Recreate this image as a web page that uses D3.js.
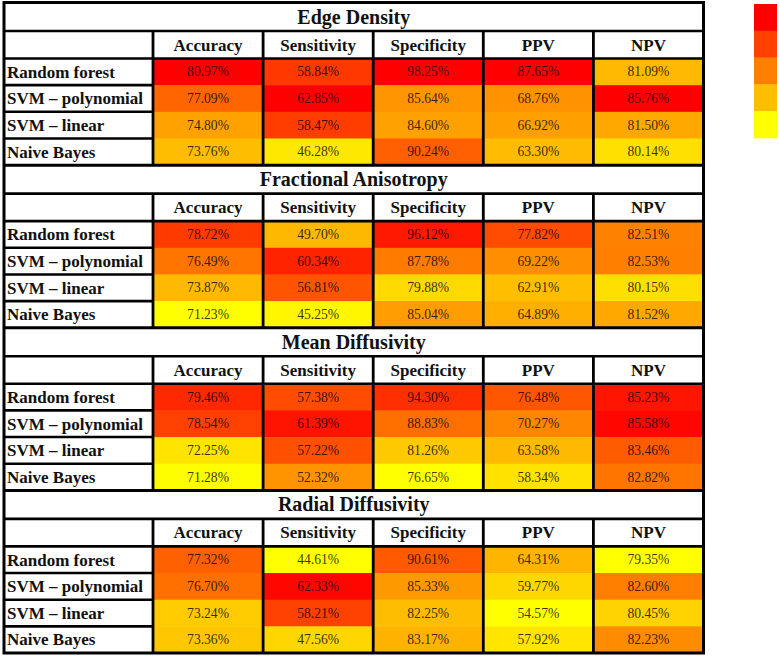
<!DOCTYPE html>
<html>
<head>
<meta charset="utf-8">
<script src="https://cdn.jsdelivr.net/npm/d3@7"></script>
<style>
  html, body { margin: 0; padding: 0; background: #ffffff; }
  svg { display: block; }
  text { font-family: "Liberation Serif", "Times New Roman", Times, serif; }
</style>
</head>
<body>
<svg id="chart" width="779" height="658"></svg>
<script>
// ---------- data ----------
const blocks = ["Edge Density", "Fractional Anisotropy", "Mean Diffusivity", "Radial Diffusivity"];
const metrics = ["Accuracy", "Sensitivity", "Specificity", "PPV", "NPV"];
const models = ["Random forest", "SVM \u2013 polynomial", "SVM \u2013 linear", "Naive Bayes"];

const edgeDensity = [
  [80.97, 58.84, 98.25, 87.65, 81.09],
  [77.09, 62.85, 85.64, 68.76, 85.76],
  [74.80, 58.47, 84.60, 66.92, 81.50],
  [73.76, 46.28, 90.24, 63.30, 80.14]
];
const fractionalAnisotropy = [
  [78.72, 49.70, 96.12, 77.82, 82.51],
  [76.49, 60.34, 87.78, 69.22, 82.53],
  [73.87, 56.81, 79.88, 62.91, 80.15],
  [71.23, 45.25, 85.04, 64.89, 81.52]
];
const meanDiffusivity = [
  [79.46, 57.38, 94.30, 76.48, 85.23],
  [78.54, 61.39, 88.83, 70.27, 85.58],
  [72.25, 57.22, 81.26, 63.58, 83.46],
  [71.28, 52.32, 76.65, 58.34, 82.82]
];
const radialDiffusivity = [
  [77.32, 44.61, 90.61, 64.31, 79.35],
  [76.70, 62.33, 85.33, 59.77, 82.60],
  [73.24, 58.21, 82.25, 54.57, 80.45],
  [73.36, 47.56, 83.17, 57.92, 82.23]
];
const legendSteps = [1, 0.75, 0.5, 0.25, 0];

const blockValues = [edgeDensity, fractionalAnisotropy, meanDiffusivity, radialDiffusivity];

// ---------- layout ----------
const svg = d3.select("#chart");
const tableLeft = 4, tableRight = 703.5, labelRight = 153, tableTop = 2.5, tableBottom = 653;
const titleH = 28.5, headerH = 27.5;

const x = d3.scaleBand().domain(metrics).range([labelRight, tableRight]);
const yBlock = d3.scaleBand().domain(blocks).range([tableTop, tableBottom]);
const yRow = d3.scaleBand().domain(models).range([titleH + headerH, yBlock.bandwidth()]);

// colour scale per metric, over all four blocks
const colorScales = metrics.map((m, j) => {
  const vals = blockValues.flatMap(b => b.map(r => r[j]));
  return d3.scaleSequential(d3.interpolateRgb("#ffff00", "#ff0000")).domain(d3.extent(vals));
});

// flat cell list
const cells = [];
blocks.forEach((b, bi) => models.forEach((m, ri) => metrics.forEach((k, ci) => {
  cells.push({ block: b, model: m, metric: k, ci, value: blockValues[bi][ri][ci] });
})));

// background
svg.append("rect").attr("x", tableLeft).attr("y", tableTop)
  .attr("width", tableRight - tableLeft).attr("height", tableBottom - tableTop).attr("fill", "#fff");

// cells
svg.append("g").selectAll("rect").data(cells).join("rect")
  .attr("x", d => x(d.metric))
  .attr("y", d => yBlock(d.block) + yRow(d.model))
  .attr("width", x.bandwidth())
  .attr("height", yRow.bandwidth() + 0.5)
  .attr("fill", d => colorScales[d.ci](d.value));

// value text
svg.append("g").selectAll("text").data(cells).join("text")
  .attr("x", d => x(d.metric) + x.bandwidth() / 2)
  .attr("y", d => yBlock(d.block) + yRow(d.model) + yRow.bandwidth() / 2 + 4.6)
  .attr("text-anchor", "middle")
  .attr("font-size", "13.6px")
  .attr("fill", "#000")
  .attr("fill-opacity", 0.8)
  .text(d => d.value.toFixed(2) + "%");

const g = svg.append("g");
blocks.forEach(b => {
  const y0 = yBlock(b);
  // title
  g.append("text").attr("x", (tableLeft + tableRight) / 2).attr("y", y0 + titleH / 2 + 6.8)
    .attr("text-anchor", "middle").attr("font-size", "20px").attr("font-weight", "bold")
    .attr("fill", "#111").text(b);
  // headers
  metrics.forEach(m => {
    g.append("text").attr("x", x(m) + x.bandwidth() / 2).attr("y", y0 + titleH + headerH / 2 + 5.8)
      .attr("text-anchor", "middle").attr("font-size", "17px").attr("font-weight", "bold")
      .attr("fill", "#111").text(m);
  });
  // row labels
  models.forEach(m => {
    g.append("text").attr("x", 7).attr("y", y0 + yRow(m) + yRow.bandwidth() / 2 + 5.8)
      .attr("font-size", "17px").attr("font-weight", "bold")
      .attr("fill", "#111").text(m);
  });
});

// grid lines
const lines = svg.append("g").attr("stroke", "#000").attr("fill", "none");
blocks.forEach((b, bi) => {
  const y0 = yBlock(b), y1 = y0 + yBlock.bandwidth();
  if (bi > 0) lines.append("line").attr("x1", tableLeft).attr("x2", tableRight).attr("y1", y0).attr("y2", y0).attr("stroke-width", 3);
  [y0 + titleH, y0 + titleH + headerH].forEach(yy => {
    lines.append("line").attr("x1", tableLeft).attr("x2", tableRight).attr("y1", yy).attr("y2", yy).attr("stroke-width", 2.6);
  });
  models.slice(1).forEach(m => {
    const yy = y0 + yRow(m);
    lines.append("line").attr("x1", tableLeft).attr("x2", labelRight).attr("y1", yy).attr("y2", yy).attr("stroke-width", 2.6);
  });
  [labelRight, ...metrics.slice(1).map(m => x(m))].forEach(xx => {
    lines.append("line").attr("x1", xx).attr("x2", xx).attr("y1", y0 + titleH).attr("y2", y1).attr("stroke-width", 2.8);
  });
});
lines.append("rect").attr("x", tableLeft).attr("y", tableTop)
  .attr("width", tableRight - tableLeft).attr("height", tableBottom - tableTop).attr("stroke-width", 3);

// legend
const legendScale = d3.scaleSequential(d3.interpolateRgb("#ffff00", "#ff0000")).domain([0, 1]);
const yLeg = d3.scaleBand().domain(legendSteps).range([4, 138]);
svg.append("g").selectAll("rect").data(legendSteps).join("rect")
  .attr("x", 754).attr("width", 23)
  .attr("y", d => yLeg(d)).attr("height", yLeg.bandwidth() + 0.3)
  .attr("fill", d => legendScale(d));
</script>
</body>
</html>
